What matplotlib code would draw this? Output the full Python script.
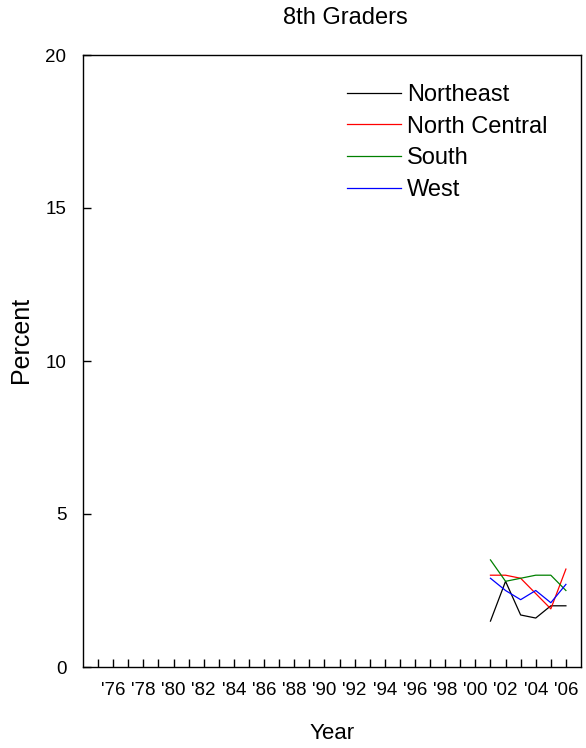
import matplotlib
matplotlib.use("Agg")
import matplotlib.pyplot as plt

plt.rcParams['font.family'] = ['Liberation Sans', 'DejaVu Sans']

years = [2001, 2002, 2003, 2004, 2005, 2006]
northeast = [1.5, 2.8, 1.7, 1.6, 2.0, 2.0]
north_central = [3.0, 3.0, 2.9, 2.4, 1.9, 3.2]
south = [3.5, 2.8, 2.9, 3.0, 3.0, 2.5]
west = [2.9, 2.5, 2.2, 2.5, 2.1, 2.7]

series_names = ["Northeast", "North Central", "South", "West"]
series_colors = ["#000000", "#ff0000", "#008000", "#0000ff"]

tick_years = list(range(1975, 2007))
tick_labels = ["'%02d" % (y % 100) if y % 2 == 0 else "" for y in tick_years]
y_ticks = [0, 5, 10, 15, 20]

W, H = 586, 748
fig = plt.figure(figsize=(W/100, H/100), dpi=100)
ax = fig.add_axes([83/W, 1-667/H, (581-83)/W, (667-55)/H])

for name, vals, col in zip(series_names, [northeast, north_central, south, west], series_colors):
    ax.plot(years, vals, color=col, lw=0.9, label=name)

ax.set_xlim(1974, 2007)
ax.set_ylim(0, 20)
ax.set_xticks(tick_years)
ax.set_xticklabels(tick_labels, fontsize=13.5)
ax.set_yticks(y_ticks)
ax.set_yticklabels([str(v) for v in y_ticks], fontsize=13.5)
ax.tick_params(axis='both', direction='in', length=6, width=1)
ax.tick_params(axis='x', pad=11)
ax.tick_params(axis='y', pad=12)
for s in ax.spines.values():
    s.set_linewidth(1)

ax.set_xlabel("Year", fontsize=16, labelpad=17)
fig.text(21/W, 1-340/H, "Percent", fontsize=18, rotation=90, ha='center', va='center')
fig.text(345/W, 1-18/H, "8th Graders", fontsize=17, ha='center', va='center')

leg = ax.legend(loc='upper left', bbox_to_anchor=(347/W, 1-84/H), bbox_transform=fig.transFigure,
                frameon=False, fontsize=17, handlelength=2.29, handletextpad=0.25,
                labelspacing=0.41, borderpad=0, borderaxespad=0)

fig.savefig("out.png", dpi=100)
